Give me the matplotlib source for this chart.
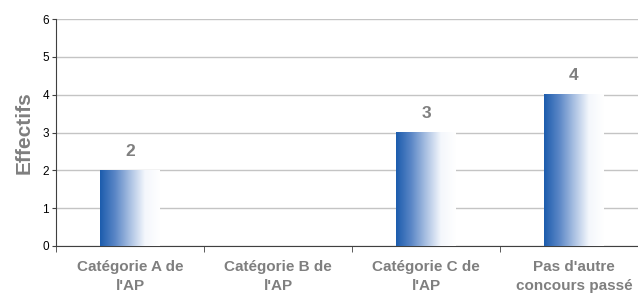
import numpy as np
import matplotlib

matplotlib.use("Agg")
import matplotlib.pyplot as plt
from matplotlib.colors import LinearSegmentedColormap

categories = ["Catégorie A de\nl'AP", "Catégorie B de\nl'AP", "Catégorie C de\nl'AP",
              "Pas d'autre\nconcours passé"]
values = [2, 0, 3, 4]
y_ticks = [0, 1, 2, 3, 4, 5, 6]

GRAY = "#7f7f7f"
plt.rcParams["font.family"] = ["Liberation Sans", "DejaVu Sans"]

fig = plt.figure(figsize=(6.38, 2.97), dpi=100)
ax = fig.add_axes([56 / 638, 51 / 297, 592 / 638, 227 / 297])

cmap = LinearSegmentedColormap.from_list(
    "bar", ["#1c5cad", "#5a86c6", "#a9c0e2", "#f4f7fc", "#ffffff"])
grad = np.linspace(0, 1, 256).reshape(1, -1)
width = 0.4

ax.yaxis.grid(True, color="#c4c4c4", linewidth=1)
ax.set_axisbelow(True)

for i, v in enumerate(values):
    if v <= 0:
        continue
    # white backing hides the gridlines behind the bar
    ax.bar(i, v, width=width, color="white", zorder=2)
    ax.imshow(grad, cmap=cmap, aspect="auto", zorder=3,
              extent=(i - width / 2, i + width / 2, 0, v))
    ax.text(i, v + 0.3, str(v), ha="center", va="bottom", color=GRAY,
            fontsize=12.5, fontweight="bold", zorder=4)
ax.set_xlim(-0.5, len(categories) - 0.5)
ax.set_ylim(0, 6)

ax.set_yticks(y_ticks)
ax.tick_params(axis="y", labelsize=8.5, length=3, color="#404040", pad=2)
ax.set_xticks(np.arange(len(categories)))
ax.set_xticklabels(categories, color=GRAY, fontsize=11, fontweight="bold",
                   multialignment="center", linespacing=1.45)
ax.tick_params(axis="x", length=0, pad=10)
ax.set_xticks(np.arange(len(categories) + 1) - 0.5, minor=True)
ax.tick_params(axis="x", which="minor", length=4, color="#404040")

for side in ("top", "right"):
    ax.spines[side].set_visible(False)
for side in ("left", "bottom"):
    ax.spines[side].set_color("#404040")

ax.set_ylabel("Effectifs", color=GRAY, fontsize=15, fontweight="bold", labelpad=6)

fig.savefig("out.png", dpi=100)
